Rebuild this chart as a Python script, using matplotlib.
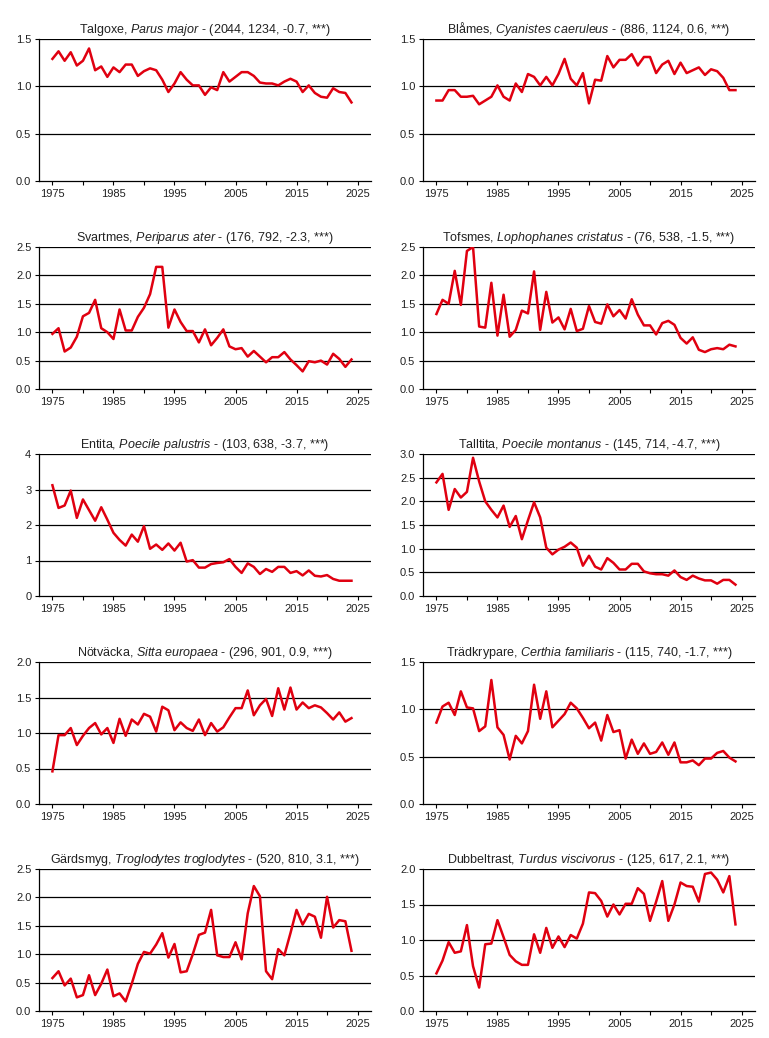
import matplotlib
matplotlib.use('Agg')
import matplotlib.pyplot as plt

plt.rcParams['font.family'] = ['Liberation Sans', 'DejaVu Sans']
plt.rcParams['mathtext.fontset'] = 'custom'
plt.rcParams['mathtext.it'] = 'Liberation Sans:italic'
plt.rcParams['mathtext.rm'] = 'Liberation Sans'

years = list(range(1975, 2025))

talgoxe = [1.29, 1.37, 1.27, 1.36, 1.22, 1.27, 1.40, 1.17, 1.21, 1.10,
           1.20, 1.15, 1.23, 1.23, 1.11, 1.16, 1.19, 1.17, 1.07, 0.94,
           1.03, 1.15, 1.07, 1.01, 1.01, 0.91, 0.99, 0.96, 1.15, 1.05,
           1.10, 1.15, 1.15, 1.11, 1.04, 1.03, 1.03, 1.01, 1.05, 1.08,
           1.05, 0.94, 1.01, 0.93, 0.89, 0.88, 0.98, 0.94, 0.93, 0.83]
blames = [0.85, 0.85, 0.96, 0.96, 0.89, 0.89, 0.90, 0.81, 0.85, 0.89,
          1.01, 0.89, 0.85, 1.03, 0.94, 1.13, 1.10, 1.01, 1.10, 1.01,
          1.13, 1.29, 1.08, 1.01, 1.14, 0.82, 1.07, 1.06, 1.32, 1.20,
          1.28, 1.28, 1.34, 1.22, 1.31, 1.31, 1.14, 1.23, 1.27, 1.13,
          1.25, 1.14, 1.17, 1.20, 1.12, 1.18, 1.16, 1.09, 0.96, 0.96]
svartmes = [0.97, 1.07, 0.66, 0.73, 0.92, 1.28, 1.34, 1.57, 1.07, 1.00,
            0.88, 1.40, 1.03, 1.03, 1.27, 1.43, 1.67, 2.15, 2.15, 1.08,
            1.40, 1.18, 1.02, 1.02, 0.82, 1.05, 0.77, 0.90, 1.05, 0.75,
            0.70, 0.72, 0.57, 0.67, 0.57, 0.47, 0.56, 0.56, 0.65, 0.52,
            0.42, 0.31, 0.49, 0.47, 0.50, 0.43, 0.62, 0.53, 0.39, 0.52]
tofsmes = [1.32, 1.57, 1.50, 2.08, 1.48, 2.43, 2.50, 1.10, 1.08, 1.87,
           0.94, 1.66, 0.92, 1.04, 1.38, 1.33, 2.07, 1.04, 1.71, 1.17,
           1.26, 1.05, 1.41, 1.02, 1.06, 1.46, 1.18, 1.15, 1.49, 1.28,
           1.39, 1.24, 1.58, 1.31, 1.12, 1.12, 0.96, 1.16, 1.20, 1.13,
           0.90, 0.80, 0.91, 0.69, 0.65, 0.70, 0.72, 0.70, 0.78, 0.75]
entita = [3.12, 2.48, 2.55, 2.97, 2.20, 2.72, 2.42, 2.12, 2.50, 2.15,
          1.78, 1.58, 1.42, 1.73, 1.53, 1.97, 1.33, 1.45, 1.30, 1.48,
          1.28, 1.50, 0.97, 1.01, 0.80, 0.80, 0.90, 0.93, 0.95, 1.04,
          0.82, 0.65, 0.92, 0.82, 0.62, 0.76, 0.68, 0.82, 0.82, 0.65,
          0.70, 0.58, 0.72, 0.57, 0.55, 0.59, 0.48, 0.43, 0.43, 0.43]
talltita = [2.40, 2.58, 1.82, 2.26, 2.08, 2.20, 2.92, 2.42, 2.00, 1.82,
            1.66, 1.91, 1.46, 1.69, 1.20, 1.60, 1.98, 1.66, 1.02, 0.88,
            0.98, 1.04, 1.13, 1.02, 0.64, 0.85, 0.62, 0.56, 0.80, 0.70,
            0.56, 0.56, 0.68, 0.68, 0.52, 0.48, 0.46, 0.46, 0.43, 0.54,
            0.40, 0.34, 0.43, 0.37, 0.33, 0.33, 0.26, 0.34, 0.34, 0.24]
notvacka = [0.46, 0.97, 0.97, 1.07, 0.83, 0.96, 1.07, 1.14, 0.98, 1.07,
            0.86, 1.20, 0.96, 1.19, 1.12, 1.27, 1.23, 1.02, 1.37, 1.32,
            1.04, 1.15, 1.07, 1.03, 1.19, 0.97, 1.14, 1.02, 1.08, 1.22,
            1.35, 1.35, 1.60, 1.25, 1.39, 1.48, 1.24, 1.63, 1.33, 1.64,
            1.33, 1.43, 1.35, 1.39, 1.36, 1.28, 1.19, 1.29, 1.16, 1.21]
tradkrypare = [0.86, 1.03, 1.07, 0.94, 1.19, 1.02, 1.01, 0.77, 0.82, 1.31,
               0.81, 0.73, 0.47, 0.72, 0.64, 0.77, 1.26, 0.90, 1.19, 0.81,
               0.88, 0.95, 1.07, 1.01, 0.91, 0.80, 0.86, 0.67, 0.94, 0.76,
               0.78, 0.48, 0.68, 0.53, 0.64, 0.53, 0.55, 0.65, 0.52, 0.65,
               0.44, 0.44, 0.46, 0.41, 0.48, 0.48, 0.54, 0.56, 0.49, 0.45]
gardsmyg = [0.58, 0.70, 0.45, 0.57, 0.24, 0.28, 0.63, 0.28, 0.48, 0.73,
            0.26, 0.31, 0.17, 0.48, 0.83, 1.04, 1.01, 1.17, 1.37, 0.94,
            1.18, 0.68, 0.70, 1.00, 1.34, 1.38, 1.78, 0.98, 0.95, 0.95,
            1.21, 0.91, 1.72, 2.20, 2.02, 0.70, 0.56, 1.09, 0.98, 1.37,
            1.78, 1.52, 1.71, 1.66, 1.29, 2.01, 1.47, 1.60, 1.58, 1.06]
dubbeltrast = [0.53, 0.71, 0.97, 0.82, 0.84, 1.21, 0.63, 0.33, 0.94, 0.95,
               1.28, 1.04, 0.79, 0.70, 0.65, 0.65, 1.08, 0.82, 1.17, 0.89,
               1.05, 0.90, 1.07, 1.02, 1.23, 1.67, 1.66, 1.55, 1.33, 1.50,
               1.36, 1.51, 1.51, 1.73, 1.65, 1.27, 1.54, 1.83, 1.27, 1.50,
               1.81, 1.76, 1.75, 1.54, 1.93, 1.95, 1.85, 1.67, 1.90, 1.22]

names = ['Talgoxe', 'Blåmes', 'Svartmes', 'Tofsmes', 'Entita',
         'Talltita', 'Nötväcka', 'Trädkrypare', 'Gärdsmyg', 'Dubbeltrast']
latin = ['Parus major', 'Cyanistes caeruleus', 'Periparus ater',
         'Lophophanes cristatus', 'Poecile palustris', 'Poecile montanus',
         'Sitta europaea', 'Certhia familiaris', 'Troglodytes troglodytes',
         'Turdus viscivorus']
stats = ['(2044, 1234, -0.7, ***)', '(886, 1124, 0.6, ***)',
         '(176, 792, -2.3, ***)', '(76, 538, -1.5, ***)',
         '(103, 638, -3.7, ***)', '(145, 714, -4.7, ***)',
         '(296, 901, 0.9, ***)', '(115, 740, -1.7, ***)',
         '(520, 810, 3.1, ***)', '(125, 617, 2.1, ***)']
series = [talgoxe, blames, svartmes, tofsmes, entita,
          talltita, notvacka, tradkrypare, gardsmyg, dubbeltrast]
yticks = [[0, 0.5, 1.0, 1.5], [0, 0.5, 1.0, 1.5],
          [0, 0.5, 1.0, 1.5, 2.0, 2.5], [0, 0.5, 1.0, 1.5, 2.0, 2.5],
          [0, 1, 2, 3, 4], [0, 0.5, 1.0, 1.5, 2.0, 2.5, 3.0],
          [0, 0.5, 1.0, 1.5, 2.0], [0, 0.5, 1.0, 1.5],
          [0, 0.5, 1.0, 1.5, 2.0, 2.5], [0, 0.5, 1.0, 1.5, 2.0]]

W, H = 769, 1038
fig = plt.figure(figsize=(W / 100, H / 100), dpi=100)

col_left = [39, 423]
row_top = [39, 247, 454, 662, 869]
ax_w, ax_h = 332, 142
txt = '#222222'

for i in range(10):
    r, c = divmod(i, 2)
    ax = fig.add_axes([col_left[c] / W, 1 - (row_top[r] + ax_h) / H, ax_w / W, ax_h / H])
    ticks = yticks[i]
    for t in ticks[1:]:
        ax.axhline(t, color='black', lw=0.9, zorder=1)
    ax.plot(years, series[i], color='#e00010', lw=1.8, zorder=3)
    ax.set_xlim(1972.8, 2027.2)
    ax.set_ylim(0, ticks[-1])
    ax.set_yticks(ticks)
    if i == 4:
        ax.set_yticklabels([str(t) for t in ticks])
    else:
        ax.set_yticklabels(['%.1f' % t for t in ticks])
    ax.set_xticks(range(1975, 2030, 10))
    ax.set_xticks(range(1980, 2030, 10), minor=True)
    ax.tick_params(axis='both', which='both', length=3, width=0.8, labelsize=8,
                   colors='black', labelcolor=txt, pad=2.5)
    ax.spines['top'].set_visible(False)
    ax.spines['right'].set_visible(False)
    ax.spines['left'].set_linewidth(0.9)
    ax.spines['bottom'].set_linewidth(0.9)
    lat = latin[i].replace(' ', r'\ ')
    ax.set_title(names[i] + ', $\\mathit{' + lat + '}$ - ' + stats[i],
                 fontsize=9, color=txt, pad=4)

fig.savefig('out.png', dpi=100)
